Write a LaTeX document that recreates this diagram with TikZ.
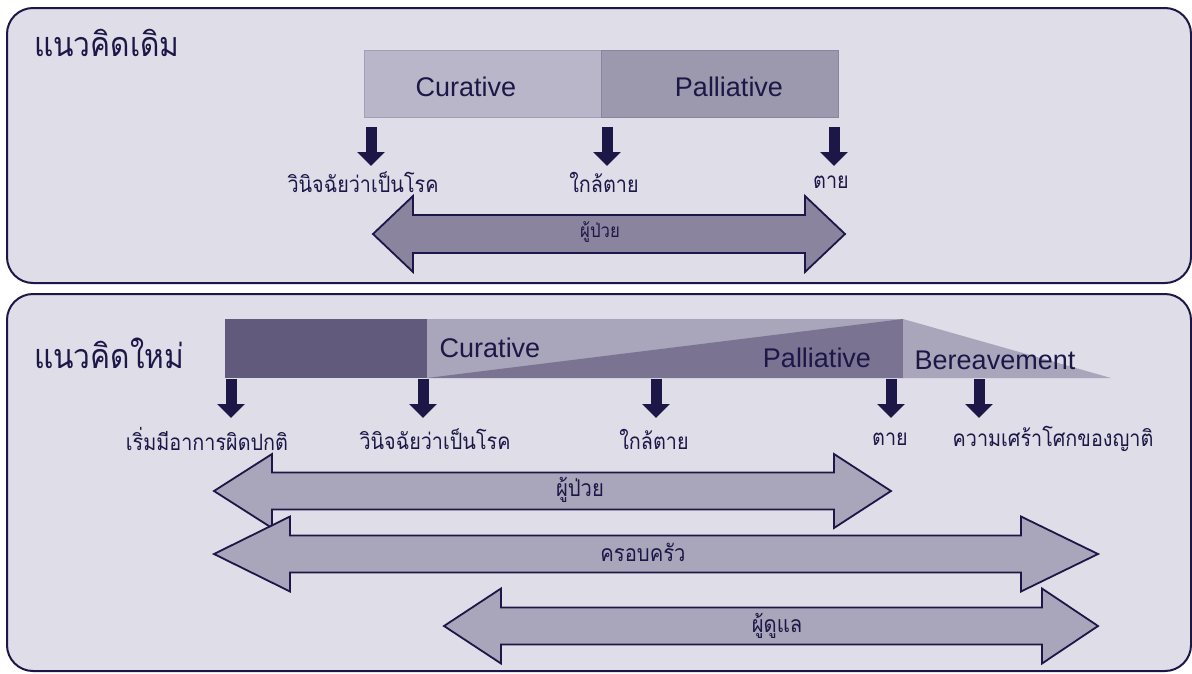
\documentclass[tikz,border=0pt]{standalone}
\usepackage{fontspec}
\setmainfont{Liberation Sans}
\newfontfamily\thai[Script=Thai, FakeStretch=0.88]{Loma}
\usetikzlibrary{arrows.meta}
\definecolor{navy}{HTML}{1C1747}
\definecolor{panel}{HTML}{DFDDE7}
\definecolor{curA}{HTML}{B9B6C9}
\definecolor{palA}{HTML}{9C98AE}
\definecolor{darkseg}{HTML}{615A7C}
\definecolor{lite}{HTML}{A9A5BA}
\definecolor{midseg}{HTML}{7A7391}
\definecolor{arrtop}{HTML}{8A849F}
\newcommand\fatdbl[8]{%
  \draw[#1] (#2,#4) -- (#2+#7,#4-#6) -- (#2+#7,#4-#5) -- (#3-#8,#4-#5) -- (#3-#8,#4-#6) -- (#3,#4)
   -- (#3-#8,#4+#6) -- (#3-#8,#4+#5) -- (#2+#7,#4+#5) -- (#2+#7,#4+#6) -- cycle;}
\tikzset{
  panelbox/.style={draw=navy, line width=2pt, fill=panel, rounded corners=26pt},
  downarr/.style={draw=navy, line width=11pt, -{Triangle[width=27pt,length=14pt]}},
  titletxt/.style={text=navy, font={\thai\fontsize{34}{40}\selectfont}, inner sep=0pt},
  bartxt/.style={text=navy, font={\fontsize{27}{32}\selectfont}, inner sep=0pt},
  lbl/.style={text=navy, font={\thai\fontsize{22.5}{26}\selectfont}, inner sep=0pt},
  dbllbl/.style={text=navy, font={\thai\fontsize{19}{22}\selectfont}, inner sep=0pt},
  dbllblb/.style={text=navy, font={\thai\fontsize{23}{26}\selectfont}, inner sep=0pt},
  dbltop/.style={draw=navy, line width=1.8pt, fill=arrtop, line join=miter},
  dblbot/.style={draw=navy, line width=1.8pt, fill=lite, line join=miter},
}
\begin{document}
\begin{tikzpicture}[x=1pt, y=-1pt]
\useasboundingbox (0,0) rectangle (1192,673);
% ---------- top panel ----------
\draw[panelbox] (7,8) rectangle (1191,283);
\node[titletxt, anchor=west] (t1) at (34,43) {แนวคิดเดิม};
\draw[draw=curA!85!navy, line width=0.6pt, fill=curA] (364,50) rectangle (601,117);
\draw[draw=palA!85!navy, line width=0.6pt, fill=palA] (601,50) rectangle (838,117);
\node[bartxt] (cur1) at (466,87) {Curative};
\node[bartxt] (pal1) at (729,87) {Palliative};
\node[lbl] (l11) at (363,182) {วินิจฉัยว่าเป็นโรค};
\node[lbl] (l12) at (604,182) {ใกล้ตาย};
\node[lbl] (l13) at (831,182) {ตาย};
\coordinate (s11) at (371,127); \coordinate (e11) at (371,166);
\coordinate (s12) at (607,127); \coordinate (e12) at (607,166);
\coordinate (s13) at (834,127); \coordinate (e13) at (834,166);
\draw[downarr] (s11) -- (e11);
\draw[downarr] (s12) -- (e12);
\draw[downarr] (s13) -- (e13);
\fatdbl{dbltop}{373}{845}{234}{19}{38}{40}{40}
\node[dbllbl] (p1) at (600,232) {ผู้ป่วย};
% ---------- bottom panel ----------
\draw[panelbox] (7,294) rectangle (1191,671);
\node[titletxt, anchor=west] (t2) at (34,353) {แนวคิดใหม่};
\fill[darkseg] (225,319) rectangle (427,378);
\fill[lite] (427,319) rectangle (903,378);
\fill[midseg] (427,378) -- (903,319) -- (903,378) -- cycle;
\fill[lite] (903,319) -- (1111,378) -- (903,378) -- cycle;
\node[bartxt] (cur2) at (490,348) {Curative};
\node[bartxt] (pal2) at (817,358) {Palliative};
\node[bartxt] (ber2) at (995,360) {Bereavement};
\node[lbl] (l21) at (207,439) {เริ่มมีอาการผิดปกติ};
\node[lbl] (l22) at (435,439) {วินิจฉัยว่าเป็นโรค};
\node[lbl] (l23) at (654,439) {ใกล้ตาย};
\node[lbl] (l24) at (890,439) {ตาย};
\node[lbl] (l25) at (1053,439) {ความเศร้าโศกของญาติ};
\coordinate (s21) at (231,379); \coordinate (e21) at (231,418);
\coordinate (s22) at (423,379); \coordinate (e22) at (423,418);
\coordinate (s23) at (656,379); \coordinate (e23) at (656,418);
\coordinate (s24) at (891,379); \coordinate (e24) at (891,418);
\coordinate (s25) at (979,379); \coordinate (e25) at (979,418);
\draw[downarr] (s21) -- (e21);
\draw[downarr] (s22) -- (e22);
\draw[downarr] (s23) -- (e23);
\draw[downarr] (s24) -- (e24);
\draw[downarr] (s25) -- (e25);
\fatdbl{dblbot}{214}{891}{491}{18.5}{37}{58}{57}
\node[dbllblb] (p2) at (580,490) {ผู้ป่วย};
\fatdbl{dblbot}{214}{1098}{554}{18.5}{37.5}{76}{77}
\node[dbllblb] (f2) at (643,552) {ครอบครัว};
\fatdbl{dblbot}{444}{1098}{626}{18.5}{37.5}{57}{56}
\node[dbllblb] (c2) at (777,626) {ผู้ดูแล};
\end{tikzpicture}
\end{document}
